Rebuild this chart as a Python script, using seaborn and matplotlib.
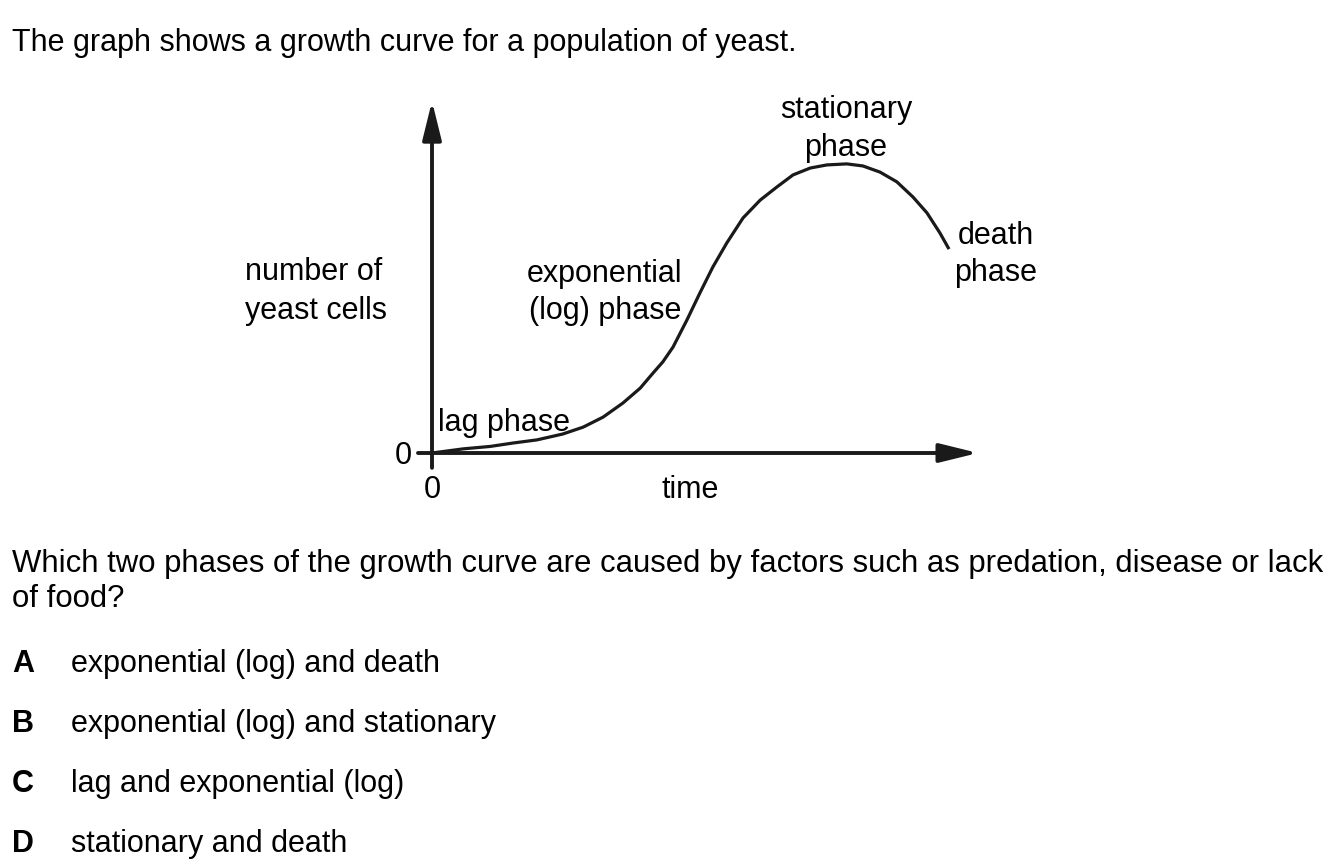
import matplotlib
matplotlib.use("Agg")
import matplotlib.pyplot as plt
import seaborn as sns
import pandas as pd

# growth curve (arbitrary units, axes 0..10)
time_vals = [0.0, 0.58, 1.08, 1.51, 1.95, 2.43, 2.81, 3.18, 3.55, 3.87, 4.11, 4.29,
             4.48, 4.74, 4.98, 5.22, 5.48, 5.78, 6.10, 6.41, 6.71, 7.03, 7.34, 7.71,
             8.01, 8.33, 8.64, 8.94, 9.20, 9.44, 9.61]
cell_vals = [0.0, 0.12, 0.19, 0.29, 0.38, 0.55, 0.75, 1.04, 1.45, 1.88, 2.32, 2.64,
             3.07, 3.86, 4.64, 5.39, 6.09, 6.81, 7.33, 7.71, 8.06, 8.26, 8.35, 8.38,
             8.32, 8.14, 7.86, 7.42, 6.96, 6.38, 5.91]

title_text = "The graph shows a growth curve for a population of yeast."
question_lines = ["Which two phases of the growth curve are caused by factors such as predation, disease or lack",
                  "of food?"]
option_letters = ["A", "B", "C", "D"]
option_texts = ["exponential (log) and death",
                "exponential (log) and stationary",
                "lag and exponential (log)",
                "stationary and death"]

sns.set_theme(style="white")
plt.rcParams["font.family"] = ["Liberation Sans", "DejaVu Sans"]

W, H = 1337, 867
fig = plt.figure(figsize=(W / 100, H / 100), dpi=100)
fig.patch.set_facecolor("white")

# axes placed so that the origin sits at pixel (432, 453)
x0, x1, y0, y1 = 432, 970, 453, 108
ax = fig.add_axes([x0 / W, 1 - y0 / H, (x1 - x0) / W, (y0 - y1) / H])
ax.set_xlim(0, 10)
ax.set_ylim(0, 10)
ax.axis("off")

ink = "#1a1a1a"
df = pd.DataFrame({"time": time_vals, "cells": cell_vals})
sns.lineplot(data=df, x="time", y="cells", ax=ax, color=ink, lw=2.3,
             sort=False, estimator=None, clip_on=False,
             solid_joinstyle="round", solid_capstyle="butt")

arrow_kw = dict(arrowstyle="-|>,head_length=1.3,head_width=0.32", lw=2.8,
                color=ink, mutation_scale=18, shrinkA=0, shrinkB=0)
ax.annotate("", xy=(0, 10.2), xytext=(0, -0.43), xycoords="data",
            arrowprops=arrow_kw, annotation_clip=False)
ax.annotate("", xy=(10.15, 0), xytext=(-0.26, 0), xycoords="data",
            arrowprops=arrow_kw, annotation_clip=False)

fs = 22


def ftext(px, py, s, ha="left", bold=False, size=fs):
    fig.text(px / W, 1 - (py + 1) / H, s, ha=ha, va="baseline", fontsize=size,
             color="black", fontweight="bold" if bold else "normal")


ftext(12, 50, title_text)
ftext(846, 117, "stationary", ha="center")
ftext(846, 155, "phase", ha="center")
ftext(996, 243, "death", ha="center")
ftext(996, 280, "phase", ha="center")
ftext(245, 279, "number of")
ftext(245, 318, "yeast cells")
ftext(605, 281, "exponential", ha="center")
ftext(605, 318, "(log) phase", ha="center")
ftext(438, 430, "lag phase")
ftext(403, 463, "0", ha="center")
ftext(432, 497, "0", ha="center")
ftext(690, 497, "time", ha="center")

ftext(12, 571, question_lines[0], size=22.4)
ftext(12, 606, question_lines[1], size=22.4)
for i, (l, t) in enumerate(zip(option_letters, option_texts)):
    yb = 671 + 60 * i
    ftext(12, yb, l, bold=True)
    ftext(71, yb, t)

fig.savefig("out.png", dpi=100, facecolor="white")
